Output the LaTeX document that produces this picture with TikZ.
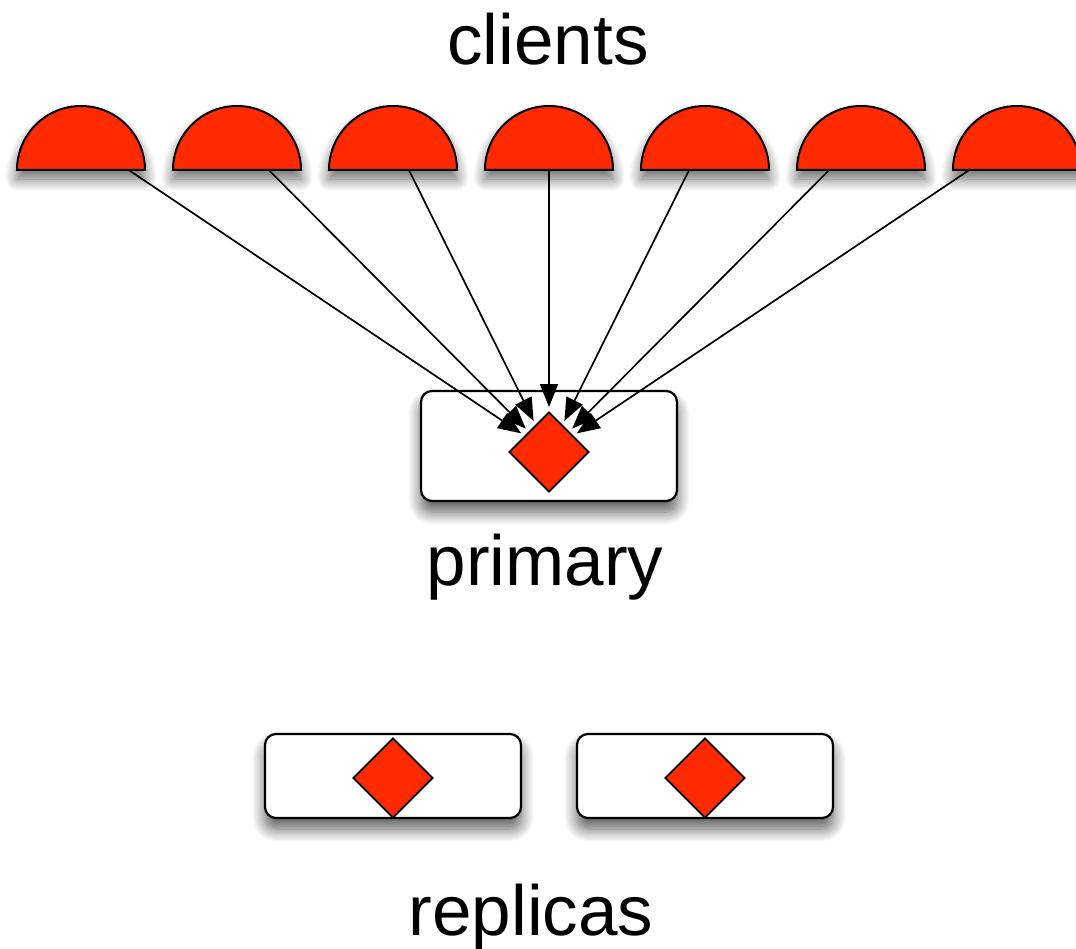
\documentclass[tikz,border=0pt]{standalone}
\usepackage{fontspec}
\setmainfont{Liberation Sans}
\usetikzlibrary{shapes.geometric,arrows.meta,shadows.blur}
\definecolor{cred}{RGB}{255,42,0}
\tikzset{
  client/.style={fill=cred, draw=black, line width=2pt,
    blur shadow={shadow xshift=0pt, shadow yshift=-9pt, shadow blur radius=12pt, shadow blur steps=12, shadow opacity=60}},
  server/.style={draw=black, fill=white, rounded corners=11pt, line width=2.2pt,
    minimum width=256pt, inner sep=0pt,
    blur shadow={shadow xshift=0pt, shadow yshift=-11pt, shadow blur radius=13pt, shadow blur steps=12, shadow opacity=65}},
  dia/.style={diamond, draw=black, fill=cred, line width=1.8pt, aspect=1,
    minimum width=80pt, minimum height=80pt, inner sep=0pt},
  arr/.style={-{Triangle[length=23pt,width=18pt,fill=black]}, draw=black, line width=1.7pt, shorten >=4pt},
  lbl/.style={font=\fontsize{71}{85}\selectfont, inner sep=0pt, anchor=base}
}
\begin{document}
\begin{tikzpicture}[x=1pt,y=-1pt]
\useasboundingbox (0,0) rectangle (1076,949);
% primary and replicas
\node[server, minimum height=110pt] (prim) at (549,446) {};
\node[dia] (pd) at (549,452) {};
\node[server, minimum height=84pt] (rep1) at (393,776) {};
\node[dia] (rd1) at (393,778) {};
\node[server, minimum height=84pt] (rep2) at (705,776) {};
\node[dia] (rd2) at (705,778) {};
% clients
\foreach \i/\cx/\sx in {1/81/128.7, 2/237/268.8, 3/393/408.9, 4/549/549, 5/705/689.1, 6/861/829.2, 7/1017/969.3} {
  \path[client] ({\cx-64},170) arc[start angle=180, end angle=360, radius=64] -- cycle;
  \coordinate (s\i) at (\sx,170);
}
\foreach \i in {1,...,7} \draw[arr] (s\i) -- (pd);
% labels
\node[lbl] (clients) at (548,65) {clients};
\node[lbl] (primary) at (545,585) {primary};
\node[lbl] (replicas) at (531,935) {replicas};
\end{tikzpicture}
\end{document}
